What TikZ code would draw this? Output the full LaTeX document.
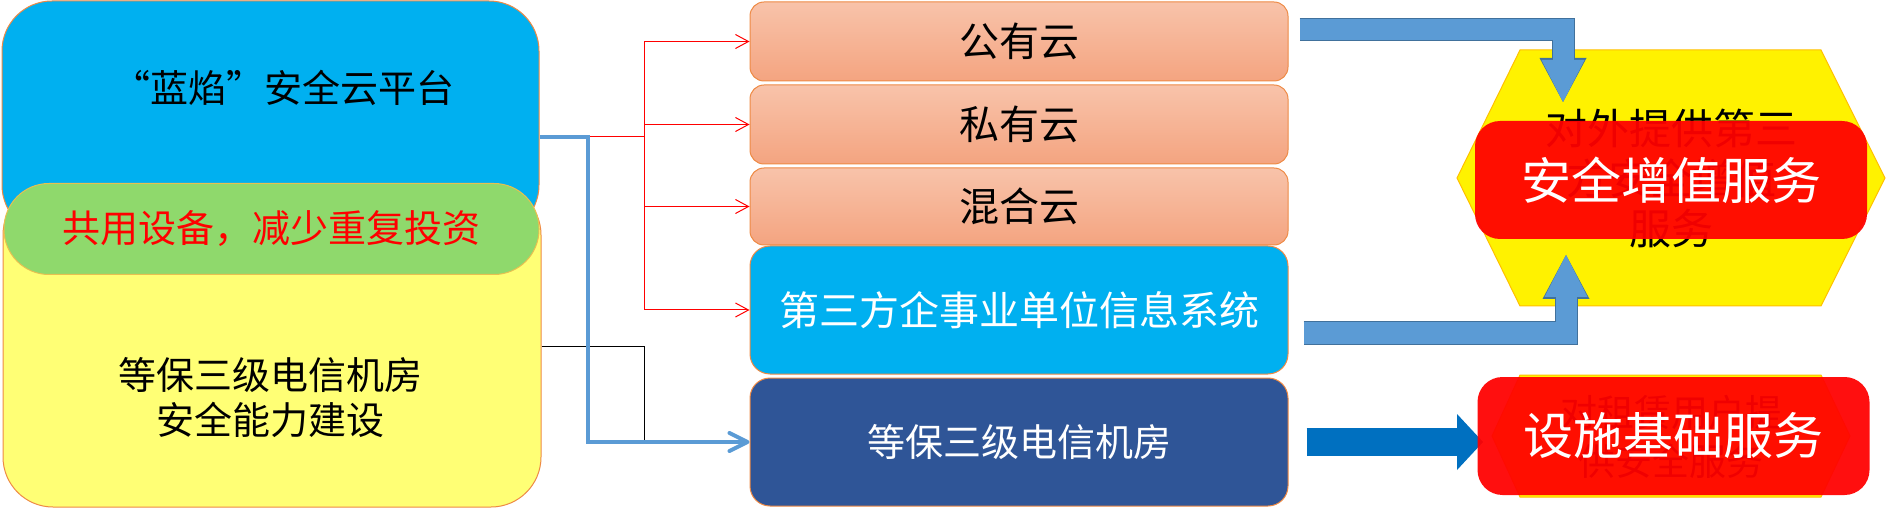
\documentclass[tikz,border=0pt]{standalone}
\usepackage{fontspec}
\setmainfont{Noto Sans CJK SC}
\usetikzlibrary{arrows.meta, positioning}

\definecolor{skyblue}{HTML}{00B0F0}
\definecolor{sharegreen}{HTML}{8FD96C}
\definecolor{infrayellow}{HTML}{FFFF75}
\definecolor{edgeorange}{HTML}{EE8A45}
\definecolor{greenedge}{HTML}{E8C050}
\definecolor{cloudtop}{HTML}{F8C3AA}
\definecolor{cloudbot}{HTML}{F4A480}
\definecolor{roomblue}{HTML}{2F5597}
\definecolor{feedblue}{HTML}{5B9BD5}
\definecolor{liftedge}{HTML}{41719C}
\definecolor{basefill}{HTML}{0070C0}
\definecolor{hexedge}{HTML}{FFC000}

\newcommand\sizeA{\fontsize{38}{45}\selectfont}
\newcommand\sizeB{\fontsize{40}{48}\selectfont}

\begin{document}
\begin{tikzpicture}[x=1pt, y=-1pt,
	plate/.style={draw=edgeorange, line width=1pt, rounded corners=50pt, inner sep=0pt},
	box/.style={draw=edgeorange, line width=1pt, minimum width=538pt, inner sep=0pt, font=\sizeB},
	cloud/.style={box, rounded corners=14pt, top color=cloudtop, bottom color=cloudbot, minimum height=79pt},
	branch/.style={draw=red, line width=1pt},
	feed/.style={draw=feedblue, line width=4pt, -{Straight Barb[length=18pt, width=18pt, round]}},
	lift/.style={draw=feedblue, line width=21pt, -{Triangle[length=42pt, width=43pt, line width=0pt]},
		preaction={draw=liftedge, line width=23pt, -{Triangle[length=44pt, width=47pt, line width=0pt]}}},
	push/.style={draw=basefill, line width=28pt, -{Triangle[length=26pt, width=56pt, line width=0pt]}},
	hexfill/.style={fill=yellow, draw=hexedge, line width=1pt},
	service/.style={fill=red, fill opacity=0.94, text opacity=1, text=white, rounded corners=25pt,
		minimum width=392pt, minimum height=118pt, inner sep=0pt, font=\fontsize{50}{60}\selectfont}]

	\useasboundingbox (0,0) rectangle (1886,510);

	\node[plate, fill=skyblue, minimum width=537pt, minimum height=234pt,
		label={[xshift=12.5pt, yshift=30pt, font=\sizeA]center:{\addfontfeature{RawFeature=+fwid}“蓝焰”安全云平台}}] (platform) at (270.5,118) {};
	\node[plate, fill=infrayellow, minimum width=538pt, minimum height=322pt,
		label={[xshift=-2pt, yshift=-51.5pt, align=center, font=\sizeA]center:等保三级电信机房\\安全能力建设}] (infra) at (272,346) {};
	\node[plate, fill=sharegreen, draw=greenedge, rounded corners=45pt, minimum width=535pt, minimum height=91pt,
		text=red, font=\sizeA] (share) at (271.5,229) {共用设备，减少重复投资};

	\node[cloud] (pub) at (1019,41.5) {公有云};
	\node[cloud] (priv) [below=3pt of pub] {私有云};
	\node[cloud, minimum height=77pt] (mix) [below=3pt of priv] {混合云};
	\node[box, fill=skyblue, text=white, rounded corners=20pt, minimum height=128pt] (corp) [below=0pt of mix] {第三方企事业单位信息系统};
	\node[box, fill=roomblue, text=white, rounded corners=20pt, minimum height=128pt, font=\sizeA] (room) [below=3pt of corp] {等保三级电信机房};

	\coordinate (split) at (588,137);
	\coordinate (fork) at (644,137);
	\draw[branch] (split) -- (fork);
	\foreach \n in {pub, priv, mix, corp}
		\draw[branch, -{Straight Barb[length=13pt, width=14pt]}] (fork) |- (\n.west);
	\draw[line width=1pt] (infra.east) -| (fork |- room.west);
	\draw[feed] (platform.east |- split) -- (split) |- (room.west);

	\filldraw[hexfill] (1457,178) -- (1520,50) -- (1821,50) -- (1885,178) -- (1821,306) -- (1520,306) -- cycle;
	\node[align=center, font=\fontsize{42}{50}\selectfont] (offer) at (1671,178) {对外提供第三\\方安全增值\\服务};
	\filldraw[hexfill] (1492,436) -- (1520,375) -- (1821,375) -- (1850,436) -- (1821,497) -- (1520,497) -- cycle;
	\node[align=center, font=\fontsize{37}{49}\selectfont] (lease) at (1671,437) {对租赁用户提\\供安全服务};

	\coordinate (upin) at (1563,102);
	\coordinate (downin) at (1566,255);
	\coordinate (basein) at (1483,0);
	\draw[lift] ([xshift=11pt, yshift=12pt]pub.east) -| (upin);
	\draw[lift] ([xshift=15pt, yshift=-23pt]corp.east) -| (downin);
	\draw[push] ([xshift=18pt]room.east) -- (room.east -| basein);

	\node[service] (value) at (1671,180) {安全增值服务};
	\node[service] (basic) at (1673.5,436) {设施基础服务};
\end{tikzpicture}
\end{document}
